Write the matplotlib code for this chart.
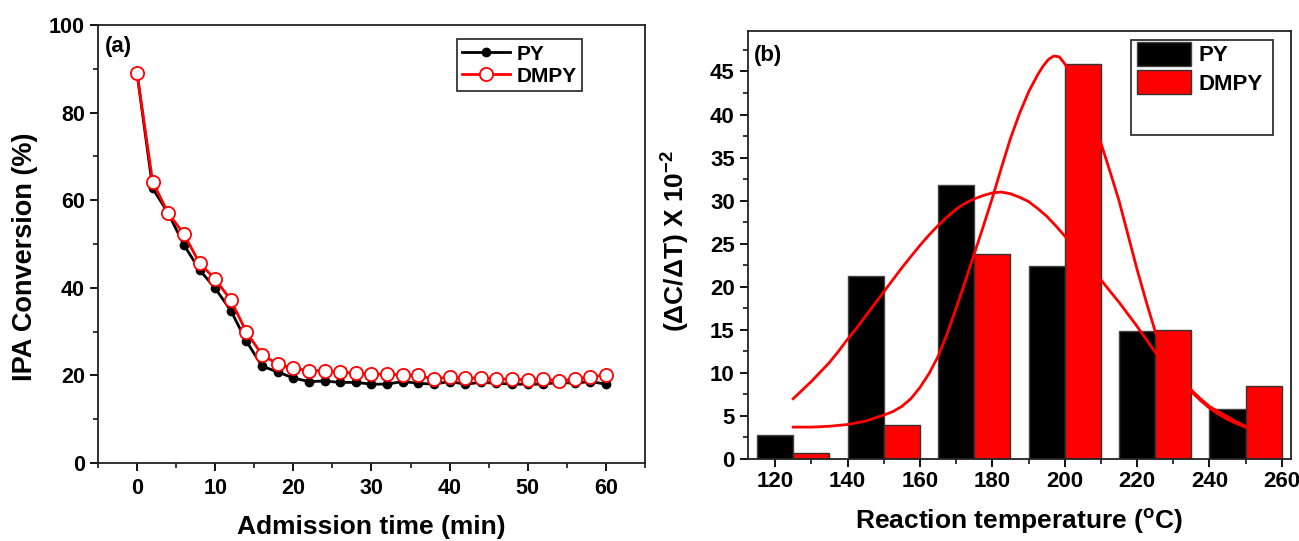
import matplotlib
matplotlib.use("Agg")
import matplotlib.pyplot as plt
from matplotlib.patches import Patch, Rectangle
from matplotlib.ticker import MultipleLocator
import numpy as np

plt.rcParams['font.family'] = ['Liberation Sans', 'DejaVu Sans']
plt.rcParams['font.weight'] = 'bold'
plt.rcParams['axes.labelweight'] = 'bold'
plt.rcParams['mathtext.fontset'] = 'custom'
plt.rcParams['mathtext.rm'] = 'Liberation Sans'
plt.rcParams['mathtext.bf'] = 'Liberation Sans:bold'

# (a) IPA conversion vs admission time
time_min = np.arange(0, 61, 2)
py_conv = [89, 62.7, 57, 49.8, 44.1, 39.9, 34.8, 27.8, 22.1, 20.8, 19.4,
           18.6, 18.7, 18.4, 18.4, 18.0, 18.0, 18.6, 18.2, 18.0, 18.6,
           18.0, 18.4, 18.2, 18.0, 18.0, 18.0, 18.4, 18.2, 18.6, 18.0]
dmpy_conv = [89, 64.2, 57, 52.3, 45.6, 42, 37.2, 29.9, 24.7, 22.6, 21.6,
             21.1, 21.1, 20.7, 20.5, 20.3, 20.3, 20.1, 20.0, 19.1, 19.7,
             19.3, 19.5, 19.2, 19.1, 19.0, 19.2, 18.7, 19.2, 19.6, 20.1]

# (b) desorption rate histogram
py_temp = [120, 145, 170, 195, 220, 245]
py_rate = [2.8, 21.2, 31.8, 22.4, 14.9, 5.8]
dmpy_temp = [130, 155, 180, 205, 230, 255]
dmpy_rate = [0.7, 4.0, 23.8, 45.9, 15.0, 8.5]
bar_width = 10

# fitted profiles
py_fit_temp = [125, 127.5, 130, 132.5, 135, 137.5, 140, 142.5, 145, 147.5,
               150, 152.5, 155, 157.5, 160, 162.5, 165, 167.5, 170, 172.5,
               175, 177.5, 180, 182.5, 185, 187.5, 190, 192.5, 195, 197.5,
               200, 205, 210, 212.5, 215, 217.5, 220, 222.5, 225, 230, 235,
               237.5, 240, 242.5, 245, 247.5, 250]
py_fit = [7.0, 8.0, 9.0, 10.1, 11.2, 12.5, 13.9, 15.2, 16.6, 18.0,
          19.4, 20.8, 22.2, 23.5, 24.8, 26.0, 27.1, 28.1, 29.0, 29.7,
          30.2, 30.6, 30.9, 31.0, 30.8, 30.4, 29.9, 29.1, 28.2, 27.1,
          25.9, 23.4, 20.8, 19.5, 18.2, 16.8, 15.4, 13.9, 12.4, 10.0, 8.0,
          7.0, 6.1, 5.5, 4.9, 4.3, 3.8]
dmpy_fit_temp = [125, 130, 135, 140, 145, 150, 152.5, 155, 157.5, 160,
                 162.5, 165, 167.5, 170, 172.5, 175, 177.5, 180, 182.5, 185,
                 187.5, 190, 192.5, 194, 195.5, 197, 198.5, 200, 205, 210,
                 212.5, 215, 217.5, 220, 222.5, 225, 230, 235, 237.5, 240,
                 242.5, 245, 247.5, 250]
dmpy_fit = [3.7, 3.7, 3.8, 4.0, 4.4, 5.1, 5.5, 6.1, 7.0, 8.3,
            9.9, 11.9, 14.5, 17.5, 20.6, 23.8, 27.0, 30.3, 33.8, 37.2,
            40.1, 42.6, 44.6, 45.6, 46.4, 46.8, 46.7, 45.9, 42.5, 36.7,
            33.4, 30.0, 26.0, 22.0, 18.3, 14.8, 10.5, 7.8, 6.8, 5.9,
            5.2, 4.6, 4.1, 3.7]

fig = plt.figure(figsize=(12.99, 5.41), dpi=100)
ax1 = fig.add_axes([0.0754, 0.1442, 0.4211, 0.8096])
ax2 = fig.add_axes([0.5758, 0.1516, 0.4180, 0.7911])

for ax in (ax1, ax2):
    for s in ax.spines.values():
        s.set_linewidth(1.3)
        s.set_color('#222222')
    ax.tick_params(which='major', direction='out', length=6, width=1.3,
                   top=False, right=False)
    ax.tick_params(which='minor', direction='out', length=3.5, width=1.1,
                   top=False, right=False)

# ---- panel (a)
ax1.plot(time_min, py_conv, '-o', color='black', lw=2, ms=6, label='PY')
ax1.plot(time_min, dmpy_conv, '-o', color='red', lw=2, ms=9.5,
         mfc='white', mec='red', mew=1.3, label='DMPY')
ax1.set_xlim(-5, 65)
ax1.set_ylim(0, 100)
ax1.xaxis.set_major_locator(MultipleLocator(10))
ax1.xaxis.set_minor_locator(MultipleLocator(5))
ax1.yaxis.set_major_locator(MultipleLocator(20))
ax1.yaxis.set_minor_locator(MultipleLocator(10))
ax1.tick_params(axis='both', labelsize=15.5)
ax1.tick_params(axis='x', pad=5)
ax1.set_xlabel('Admission time (min)', fontsize=19)
ax1.set_ylabel('IPA Conversion (%)', fontsize=19.5)
ax1.xaxis.set_label_coords(0.5, -0.118)
ax1.yaxis.set_label_coords(-0.11, 0.47)
ax1.text(0.012, 0.952, '(a)', transform=ax1.transAxes, fontsize=16,
         va='center', ha='left')
leg1 = ax1.legend(loc='upper left', bbox_to_anchor=(0.656, 0.967),
                  borderaxespad=0, fontsize=15, handlelength=2.3,
                  handletextpad=0.3, borderpad=0.25, labelspacing=0.15,
                  fancybox=False, framealpha=1)
leg1.get_frame().set_edgecolor('#222222')
leg1.get_frame().set_linewidth(1.2)

# ---- panel (b)
ax2.bar(py_temp, py_rate, width=bar_width, color='black',
        edgecolor='#444444', linewidth=1)
ax2.bar(dmpy_temp, dmpy_rate, width=bar_width, color='red',
        edgecolor='#333333', linewidth=1)
ax2.plot(py_fit_temp, py_fit, color='red', lw=2)
ax2.plot(dmpy_fit_temp, dmpy_fit, color='red', lw=2)
ax2.set_xlim(112.5, 262.5)
ax2.set_ylim(0, 49.7)
ax2.set_xticks(range(120, 261, 20))
ax2.xaxis.set_minor_locator(MultipleLocator(10))
ax2.set_yticks(range(0, 46, 5))
ax2.yaxis.set_minor_locator(MultipleLocator(2.5))
ax2.tick_params(axis='both', labelsize=16)
ax2.tick_params(axis='x', pad=3)
ax2.set_xlabel(r'Reaction temperature ($^{\mathbf{o}}$C)', fontsize=19)
ax2.set_ylabel(r'($\Delta$C/$\Delta$T) X 10$^{-2}$', fontsize=19)
ax2.xaxis.set_label_coords(0.5, -0.11)
ax2.yaxis.set_label_coords(-0.105, 0.51)
ax2.text(0.011, 0.942, '(b)', transform=ax2.transAxes, fontsize=16,
         va='center', ha='left')

ax2.add_patch(Rectangle((0.705, 0.756), 0.262, 0.224, transform=ax2.transAxes,
                        fill=False, edgecolor='#333333', linewidth=1.3))
handles = [Patch(facecolor='black', edgecolor='#444444'),
           Patch(facecolor='red', edgecolor='#333333')]
ax2.legend(handles, ['PY', 'DMPY'], loc='upper left',
           bbox_to_anchor=(0.716, 0.974), borderaxespad=0, borderpad=0,
           frameon=False, fontsize=16, handlelength=2.43, handleheight=1.26,
           handletextpad=0.34, labelspacing=0.18)

fig.savefig('out.png', dpi=100)
